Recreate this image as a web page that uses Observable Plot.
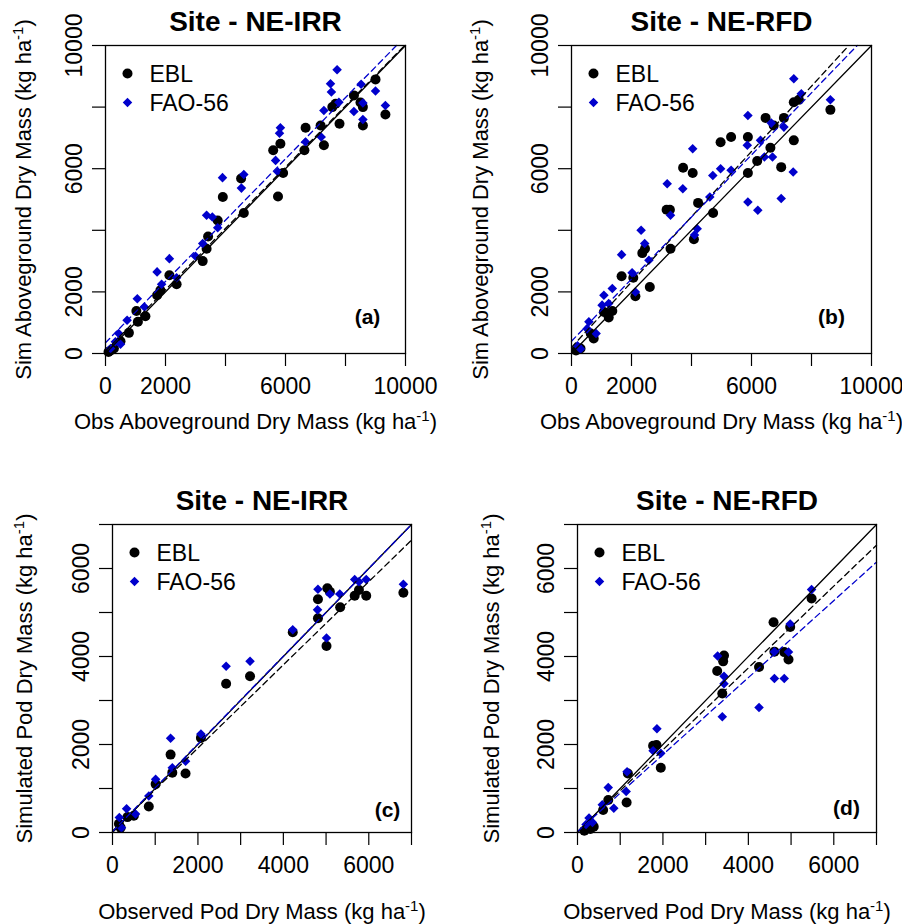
<!DOCTYPE html>
<html>
<head>
<meta charset="utf-8">
<script src="https://cdn.jsdelivr.net/npm/d3@7"></script>
<script src="https://cdn.jsdelivr.net/npm/@observablehq/plot@0.6"></script>
<style>
  html, body { margin: 0; padding: 0; background: #fff; }
  #wrap { position: relative; width: 902px; height: 924px; background: #fff; }
  .panel { position: absolute; }
</style>
</head>
<body>
<div id="wrap"></div>
<script>
// ---------------- DATA (observed, simulated) ----------------
const titles = ["Site - NE-IRR", "Site - NE-RFD", "Site - NE-IRR", "Site - NE-RFD"];
const panelTags = ["(a)", "(b)", "(c)", "(d)"];
const seriesNames = ["EBL", "FAO-56"];
const xTitles = ["Obs Aboveground Dry Mass (kg ha-1)", "Obs Aboveground Dry Mass (kg ha-1)",
                 "Observed Pod Dry Mass (kg ha-1)", "Observed Pod Dry Mass (kg ha-1)"];
const yTitles = ["Sim Aboveground Dry Mass (kg ha-1)", "Sim Aboveground Dry Mass (kg ha-1)",
                 "Simulated Pod Dry Mass (kg ha-1)", "Simulated Pod Dry Mass (kg ha-1)"];

const biomassTicks = [0, 2000, 4000, 6000, 8000, 10000];
const biomassLabels = [0, 2000, 6000, 10000];
const podTicks = [0, 1000, 2000, 3000, 4000, 5000, 6000, 7000];
const podLabels = [0, 2000, 4000, 6000];

const aEBL = [[9000,8900],[9330,7760],[8280,8380],[8580,8000],[8500,8150],[8580,7400],[7800,7460],
  [7560,8000],[7670,8110],[7170,7400],[7280,6760],[6670,7330],[6630,6600],[5830,6810],[5590,6600],
  [5920,5860],[5750,5100],[4610,4560],[4520,5680],[3910,5080],[3740,4320],[3420,3800],[3370,3400],
  [3240,3000],[2130,2540],[2370,2250],[1830,2050],[1720,1890],[1330,1210],[1030,1380],[1080,1030],
  [780,670],[500,400],[280,160],[170,100],[100,50]];
const aFAO = [[7720,9210],[7500,8760],[7530,8490],[7780,8160],[8520,8740],[9000,8520],[9330,8050],
  [8580,8130],[8580,7600],[8280,7860],[7280,7890],[7190,7030],[6670,6870],[5830,7330],[5800,7150],
  [5670,6270],[5750,5890],[4610,5810],[4530,5370],[3900,5710],[3740,4080],[3370,4490],[3560,4430],
  [3240,3570],[3000,3160],[2130,3080],[1720,2650],[1870,2250],[2370,2460],[1060,1780],[1300,1510],
  [720,1080],[440,650],[330,380],[170,160],[500,300]];
const bEBL = [[8630,7910],[7410,8160],[7580,8240],[7410,6920],[7080,7650],[6740,7400],[6470,7650],
  [6630,6680],[6990,6050],[6190,6250],[5880,7030],[5880,5860],[5320,7030],[4970,6860],[4040,5860],
  [3720,6030],[4220,4890],[4720,4560],[4080,3710],[3280,4670],[3170,4670],[3300,3400],[2360,3260],
  [2450,3400],[2610,2160],[1670,2510],[2060,2460],[2130,1860],[1240,1170],[1360,1380],[1080,1350],
  [740,490],[640,650],[300,160],[150,100]];
const bFAO = [[7410,8920],[7660,8430],[8630,8240],[5880,7730],[6660,7480],[6300,6920],[5860,6760],
  [6430,6380],[6700,6380],[7080,7350],[7390,5890],[6990,5030],[5880,4920],[6210,4650],[5320,5950],
  [4970,6000],[4710,5780],[4610,5080],[4040,6650],[3710,5350],[3190,5510],[3300,4490],[4190,4050],
  [4100,3850],[2320,4000],[2440,3570],[2580,3030],[1670,3210],[2020,2620],[2130,2000],[1080,1890],
  [1360,2110],[1020,1570],[1240,1620],[580,1030],[820,650],[520,800],[200,250],[300,150]];
const cEBL = [[6810,5450],[5940,5380],[5770,5510],[5670,5380],[5330,5120],[5090,5470],[5030,5550],
  [4810,5300],[4810,4870],[5010,4240],[4220,4550],[3220,3550],[2660,3380],[2070,2150],[1010,1100],
  [1360,1770],[1400,1360],[1710,1340],[850,590],[500,380],[350,350],[190,110],[150,200]];
const cFAO = [[6810,5640],[5940,5750],[5770,5700],[5670,5750],[5320,5420],[5090,5420],[4810,5530],
  [4800,5060],[5010,4420],[4220,4610],[3220,3890],[2660,3780],[2070,2240],[1010,1210],[1360,2140],
  [1400,1470],[1710,1620],[850,830],[330,540],[540,420],[160,340],[210,110]];
const dEBL = [[5480,5320],[4590,4780],[4980,4670],[4610,4110],[4840,4100],[4940,3930],[3430,4020],
  [3410,3890],[3270,3670],[4250,3760],[3390,3160],[1770,1970],[1850,1990],[1950,1470],[1180,1340],
  [1150,680],[720,740],[600,510],[380,130],[300,80],[160,40]];
const dFAO = [[5480,5520],[4980,4740],[4610,4110],[4940,4100],[4840,3500],[4610,3500],[4250,2840],
  [3280,4010],[3430,3550],[3430,3380],[3390,2630],[1770,1860],[1860,2360],[1950,1800],[1160,1380],
  [1140,930],[720,1020],[850,550],[580,630],[270,330],[350,230],[200,180]];

// fitted lines [intercept, slope]; identity is the 1:1 line
const identityLine = [0, 1];
const fitEBL = [[80, 0.995], [200, 1.06], [30, 0.945], [20, 0.93]];
const fitFAO = [[350, 0.995], [400, 1.008], [20, 0.997], [20, 0.875]];

// ---------------- LAYOUT ----------------
const FONT = "'Liberation Sans', Arial, Helvetica, sans-serif";
const BLUE = "#0000cc";
const layout = [
  {left: 0,   top: 0,   mL: 105, mR: 46, mT: 45, mB: 109, xt: 68, yt: -82, tagDx: -38, tagDy: -36},
  {left: 451, top: 0,   mL: 120, mR: 31, mT: 45, mB: 109, xt: 68, yt: -91, tagDx: -40, tagDy: -36},
  {left: 0,   top: 462, mL: 112, mR: 40, mT: 62, mB: 92,  xt: 79, yt: -88, tagDx: -24, tagDy: -22},
  {left: 451, top: 462, mL: 126, mR: 26, mT: 62, mB: 92,  xt: 79, yt: -86, tagDx: -30, tagDy: -24}
];
const ebl = [aEBL, bEBL, cEBL, dEBL];
const fao = [aFAO, bFAO, cFAO, dFAO];

function toRows(arr) { return arr.map(([obs, sim]) => ({obs, sim})); }
// straight line y = a + b x, limited to the square [0, max] x [0, max]
function lineRows(coef, max) {
  const [a, b] = coef;
  const x0 = Math.max(0, -a / b);
  const x1 = Math.min(max, (max - a) / b);
  return [x0, x1].map(x => ({x, y: a + b * x}));
}

const wrap = document.getElementById("wrap");
for (let i = 0; i < 4; i++) {
  const L = layout[i];
  const top = i < 2;
  const ticks = top ? biomassTicks : podTicks;
  const labels = top ? biomassLabels : podLabels;
  const max = ticks[ticks.length - 1];

  const svg = Plot.plot({
    width: 451, height: 462,
    marginLeft: L.mL, marginRight: L.mR, marginTop: L.mT, marginBottom: L.mB,
    x: {domain: [0, max]},
    y: {domain: [0, max]},
    style: {fontFamily: FONT, background: "white", overflow: "visible", color: "black"},
    marks: [
      Plot.axisX({ticks, tickSize: 13, tickPadding: 11, strokeWidth: 1.2, fontSize: 23,
        tickFormat: d => labels.includes(d) ? String(d) : "", label: null}),
      Plot.axisY({ticks, tickSize: 13, strokeWidth: 1.2, tickFormat: () => "", label: null}),
      Plot.text(labels, {frameAnchor: "left", y: d => d, dx: -31, rotate: -90, fontSize: 23,
        text: d => String(d), textAnchor: "middle", lineAnchor: "middle", fill: "black"}),
      Plot.dot(toRows(ebl[i]), {x: "obs", y: "sim", r: 5, fill: "black", stroke: "none", symbol: "circle"}),
      Plot.dot(toRows(fao[i]), {x: "obs", y: "sim", r: 4.3, fill: BLUE, stroke: "none", symbol: "diamond2"}),
      Plot.line(lineRows(identityLine, max), {x: "x", y: "y", stroke: "black", strokeWidth: 1.3}),
      Plot.line(lineRows(fitEBL[i], max), {x: "x", y: "y", stroke: "black", strokeWidth: 1.3,
        strokeDasharray: "6,4"}),
      Plot.line(lineRows(fitFAO[i], max), {x: "x", y: "y", stroke: BLUE, strokeWidth: 1.3,
        strokeDasharray: "6,4"}),
      Plot.frame({stroke: "black", strokeWidth: 1.3}),
      // legend
      Plot.dot([seriesNames[0]], {frameAnchor: "top-left", dx: 22, dy: 28, r: 5, fill: "black", symbol: "circle"}),
      Plot.dot([seriesNames[1]], {frameAnchor: "top-left", dx: 22, dy: 57, r: 4.3, fill: BLUE, stroke: "none", symbol: "diamond2"}),
      Plot.text([seriesNames[0]], {frameAnchor: "top-left", dx: 44, dy: 29, text: d => d, fontSize: 23,
        textAnchor: "start", lineAnchor: "middle", fill: "black"}),
      Plot.text([seriesNames[1]], {frameAnchor: "top-left", dx: 44, dy: 58, text: d => d, fontSize: 23,
        textAnchor: "start", lineAnchor: "middle", fill: "black"}),
      // panel tag
      Plot.text([panelTags[i]], {frameAnchor: "bottom-right", dx: L.tagDx, dy: L.tagDy, text: d => d,
        fontSize: 21, fontWeight: "bold", textAnchor: "middle", lineAnchor: "middle", fill: "black"}),
      // title
      Plot.text([titles[i]], {frameAnchor: "top", dy: -23, text: d => d, fontSize: 28, fontWeight: "bold",
        textAnchor: "middle", lineAnchor: "middle", fill: "black"}),
      // axis titles
      Plot.text([xTitles[i]], {frameAnchor: "bottom", dy: L.xt, text: d => d, fontSize: 22,
        textAnchor: "middle", lineAnchor: "middle", fill: "black"}),
      Plot.text([yTitles[i]], {frameAnchor: "left", dx: L.yt, rotate: -90, text: d => d, fontSize: 22,
        textAnchor: "middle", lineAnchor: "middle", fill: "black"})
    ]
  });

  // superscript "-1" in unit labels
  d3.select(svg).selectAll("text").each(function () {
    const s = this.textContent;
    if (s.endsWith("(kg ha-1)")) {
      const t = d3.select(this);
      t.text(null);
      t.append("tspan").text(s.slice(0, -3));
      t.append("tspan").attr("dy", "-8").attr("font-size", "15px").text("-1");
      t.append("tspan").attr("dy", "8").text(")");
    }
  });

  const div = document.createElement("div");
  div.className = "panel";
  div.style.left = L.left + "px";
  div.style.top = L.top + "px";
  div.appendChild(svg);
  wrap.appendChild(div);
}
</script>
</body>
</html>
